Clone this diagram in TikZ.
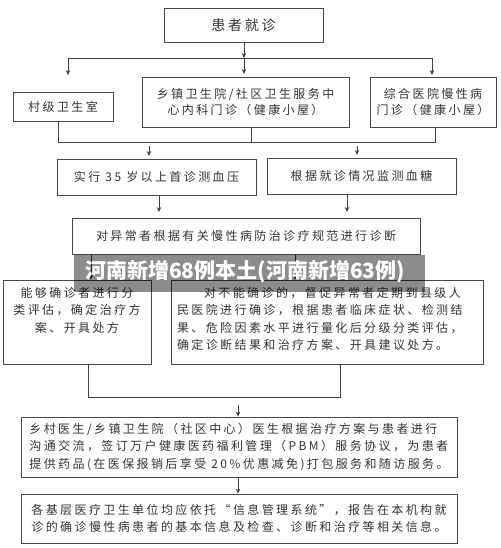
\documentclass[tikz,border=0pt]{standalone}
\usepackage{fontspec}
\newfontfamily\cjk[LetterSpace=20]{Noto Sans CJK SC}
\newfontfamily\wmfont{Noto Sans CJK SC}
\usetikzlibrary{arrows.meta}
\tikzset{
  box/.style={draw=black!72, line width=0.8pt, inner sep=0pt, text=black!80,
    font=\cjk\fontsize{12}{17.5}\selectfont, align=center},
  conn/.style={draw=black!75, line width=0.7pt},
  arr/.style={conn, -{Stealth[length=5pt,width=4.5pt]}},
}
\begin{document}
\begin{tikzpicture}[x=1pt,y=-1pt]
\useasboundingbox (0,0) rectangle (500,548);
\fill[white] (0,0) rectangle (500,548);

% row 0
\node[box, minimum width=159pt, minimum height=34pt, font=\cjk\fontsize{14}{17}\selectfont] (top) at (243.5,25) {患者就诊};
% row 1
\node[box, minimum width=100pt, minimum height=29pt] (vil) at (63,106.5) {村级卫生室};
\node[box, minimum width=207pt, minimum height=50pt, font=\cjk\fontsize{12}{16}\selectfont] (town) at (245.5,102) {乡镇卫生院/社区卫生服务中\\心内科门诊（健康小屋）};
\node[box, minimum width=126pt, minimum height=50pt, font=\cjk\fontsize{12}{16}\selectfont] (gen) at (433,102) {综合医院慢性病\\门诊（健康小屋）};
% row 2
\node[box, minimum width=199pt, minimum height=36pt] (bp) at (156.5,177) {实行 35 岁以上首诊测血压};
\node[box, minimum width=189pt, minimum height=36pt] (bg) at (361.5,176) {根据就诊情况监测血糖};
% row 3
\node[box, minimum width=348pt, minimum height=36pt] (diag) at (246,236) {对异常者根据有关慢性病防治诊疗规范进行诊断};
% row 4
\node[box, minimum width=148pt, minimum height=84pt] (ok) at (77,322)
  {\parbox[c][80pt][t]{144pt}{\centering\vspace*{5pt}能够确诊者进行分\\类评估，确定治疗方\\案、开具处方}};
\node[box, minimum width=312pt, minimum height=84pt] (notok) at (327,322)
  {\parbox[c][80pt][t]{300pt}{\raggedright\vspace*{5pt}\hspace*{27pt}对不能确诊的，督促异常者定期到县级人\\民医院进行确诊，根据患者临床症状、检测结\\果、危险因素水平进行量化后分级分类评估，\\确定诊断结果和治疗方案、开具建议处方。}};
% row 5
\node[box, minimum width=436pt, minimum height=60pt, align=left] (pbm) at (239,447)
  {乡村医生/乡镇卫生院（社区中心）医生根据治疗方案与患者进行\\沟通交流，签订万户健康医药福利管理（PBM）服务协议，为患者\\提供药品(在医保报销后享受 20\%优惠减免)打包服务和随访服务。};
\node[box, minimum width=436pt, minimum height=49pt, align=left] (info) at (239,518.5)
  {各基层医疗卫生单位均应依托“信息管理系统”，报告在本机构就\\诊的确诊慢性病患者的基本信息及检查、诊断和治疗等相关信息。};

% connectors row0 -> row1
\coordinate (hl) at (68,58);
\coordinate (hm) at (244,58);
\coordinate (hr) at (432,58);
\coordinate (t1) at (68,75);
\coordinate (t2) at (244,74);
\coordinate (t3) at (432,75);
\draw[arr] (top.south -| hm) -- (hm);
\draw[conn] (hl) -- (hr);
\draw[arr] (hl) -- (t1);
\draw[arr] (hm) -- (t2);
\draw[arr] (hr) -- (t3);

% row1 -> row2
\coordinate (m1) at (58,142);
\coordinate (m2) at (251,142);
\coordinate (m3) at (435,142);
\draw[conn] (vil.south -| m1) -- (m1) -- (m3) -- (gen.south -| m3);
\draw[conn] (town.south -| m2) -- (m2);
\coordinate (s1) at (149,146);
\coordinate (e1) at (149,156);
\coordinate (s2) at (357,146);
\coordinate (e2) at (357,155);
\draw[arr] (s1) -- (e1);
\draw[arr] (s2) -- (e2);

% row2 -> row3
\coordinate (d1) at (159,212);
\coordinate (d2) at (347,212);
\draw[arr] (bp.south -| d1) -- (d1);
\draw[arr] (bg.south -| d2) -- (d2);

% row3 -> row4
\coordinate (k1) at (91,0);
\coordinate (k2) at (295,0);
\draw[arr] (diag.south -| k1) -- (ok.north -| k1);
\draw[arr] (diag.south -| k2) -- (notok.north -| k2);

% row4 -> row5
\coordinate (b1) at (88,397);
\coordinate (b2) at (340,397);
\draw[conn] (ok.south -| b1) -- (b1) -- (b2) -- (notok.south -| b2);
\coordinate (c1) at (238,405);
\draw[arr] (c1) -- (pbm.north -| c1);
\draw[arr] (pbm.south -| c1) -- (info.north -| c1);

% watermark band
\fill[black, opacity=0.45] (74,255) rectangle (425,292);
\node[font=\wmfont\bfseries\fontsize{21}{21}\selectfont, text=white, inner sep=0pt] (wm) at (245,272) {河南新增68例本土(河南新增63例)};
\end{tikzpicture}
\end{document}
